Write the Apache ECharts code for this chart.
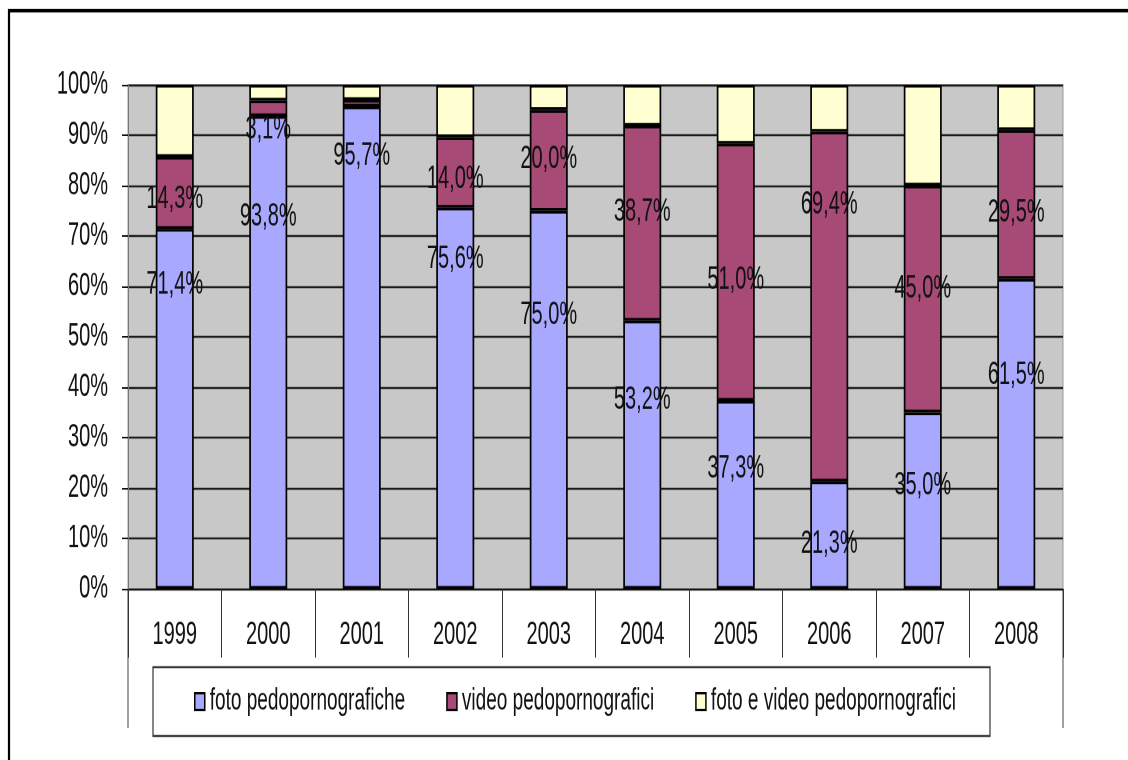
<!DOCTYPE html>
<html>
<head>
<meta charset="utf-8">
<script src="https://cdn.jsdelivr.net/npm/echarts@6/dist/echarts.min.js"></script>
<style>
  html, body { margin: 0; padding: 0; background: #fff; width: 1128px; height: 760px; }
  /* The chart is laid out in a short box and stretched tall, giving the
     tall, condensed lettering of the printed original. */
  #chart {
    width: 1128px;
    height: 475px;
    transform: scaleY(1.6);
    transform-origin: 0 0;
  }
</style>
</head>
<body>
<div id="chart"></div>
<script>
// Share of seized material by type, per year (percent of total)
const years = ['1999', '2000', '2001', '2002', '2003', '2004', '2005', '2006', '2007', '2008'];
const foto = [71.4, 93.8, 95.7, 75.6, 75.0, 53.2, 37.3, 21.3, 35.0, 61.5];
const video = [14.3, 3.1, 1.3, 14.0, 20.0, 38.7, 51.0, 69.4, 45.0, 29.5];
const fotoVideo = [14.3, 3.1, 3.0, 10.4, 5.0, 8.1, 11.7, 9.3, 20.0, 9.0];
const seriesNames = ['foto pedopornografiche', 'video pedopornografici', 'foto e video pedopornografici'];

// Vertical stretch applied to the chart box (see CSS)
const STRETCH = 1.6;

// Value labels were placed by hand: shift from each segment's centre, in on-screen px
const fotoLabelNudge = [-124, -136, -192, -139, -85, -55, -26, 9, -15, -59];
const videoLabelNudge = [6, 21, null, 7, -1, -11, 8, -102, -10, 8];

const FONT = "'Liberation Sans', Arial, sans-serif";
const FS = 20;

const pct = v => v.toFixed(1).replace('.', ',') + '%';

function labelled(values, nudges) {
  return values.map((v, i) => {
    if (nudges[i] === null) return { value: v, label: { show: false } };
    return { value: v, label: { offset: [0, nudges[i] / STRETCH] } };
  });
}

const barLabel = {
  show: true,
  position: 'inside',
  color: '#111',
  fontFamily: FONT,
  fontSize: FS,
  textBorderWidth: 0,
  formatter: p => pct(p.value)
};

const chart = echarts.init(document.getElementById('chart'), null, { devicePixelRatio: 2 });

chart.setOption({
  animation: false,
  backgroundColor: '#ffffff',
  textStyle: { fontFamily: FONT },
  grid: {
    left: 128, right: 65, top: 53, bottom: 107,
    show: true,
    backgroundColor: '#c8c8c8',
    borderColor: '#9a9a9a',
    borderWidth: 1
  },
  legend: {
    left: 153, top: 417,
    orient: 'horizontal',
    itemWidth: 10, itemHeight: 10.6,
    itemGap: 41,
    padding: [11.5, 34, 11.5, 41],
    borderColor: '#333',
    borderWidth: 1.2,
    backgroundColor: '#fff',
    icon: 'rect',
    itemStyle: { borderColor: '#000', borderWidth: 1.5 },
    textStyle: { fontFamily: FONT, fontSize: 19, color: '#111', lineHeight: 20 },
    data: seriesNames
  },
  xAxis: {
    type: 'category',
    data: years,
    axisLine: { show: true, lineStyle: { color: '#111', width: 1 } },
    axisTick: { show: true, interval: 0, length: 43, lineStyle: { color: '#333', width: 1 } },
    axisLabel: { interval: 0, margin: 19, color: '#111', fontFamily: FONT, fontSize: FS }
  },
  yAxis: {
    type: 'value',
    min: 0, max: 100, interval: 10,
    axisLine: { show: true, lineStyle: { color: '#777', width: 1 } },
    axisTick: { show: true, length: 6, lineStyle: { color: '#111', width: 1 } },
    axisLabel: { margin: 20, color: '#111', fontFamily: FONT, fontSize: FS, formatter: '{value}%' },
    splitLine: { show: true, lineStyle: { color: '#1a1a1a', width: 1.25 } }
  },
  series: [
    {
      name: seriesNames[0], type: 'bar', stack: 'share', barWidth: 38,
      itemStyle: { color: '#a8a8ff', borderColor: '#000', borderWidth: 1.7 },
      label: barLabel,
      data: labelled(foto, fotoLabelNudge)
    },
    {
      name: seriesNames[1], type: 'bar', stack: 'share', barWidth: 38,
      itemStyle: { color: '#a84a76', borderColor: '#000', borderWidth: 1.7 },
      label: barLabel,
      data: labelled(video, videoLabelNudge)
    },
    {
      name: seriesNames[2], type: 'bar', stack: 'share', barWidth: 38,
      itemStyle: { color: '#ffffd2', borderColor: '#000', borderWidth: 1.7 },
      data: fotoVideo
    }
  ],
  graphic: [
    // frame around the whole chart
    { type: 'rect', silent: true, z: 100,
      shape: { x: 9, y: 6.6, width: 1200, height: 600 },
      style: { fill: 'none', stroke: '#000', lineWidth: 2.2 } },
    // outer rules of the category table
    { type: 'line', silent: true,
      shape: { x1: 128, y1: 368, x2: 128, y2: 455 },
      style: { stroke: '#444', lineWidth: 1 } },
    { type: 'line', silent: true,
      shape: { x1: 1063, y1: 368, x2: 1063, y2: 455 },
      style: { stroke: '#444', lineWidth: 1 } }
  ]
});
</script>
</body>
</html>
